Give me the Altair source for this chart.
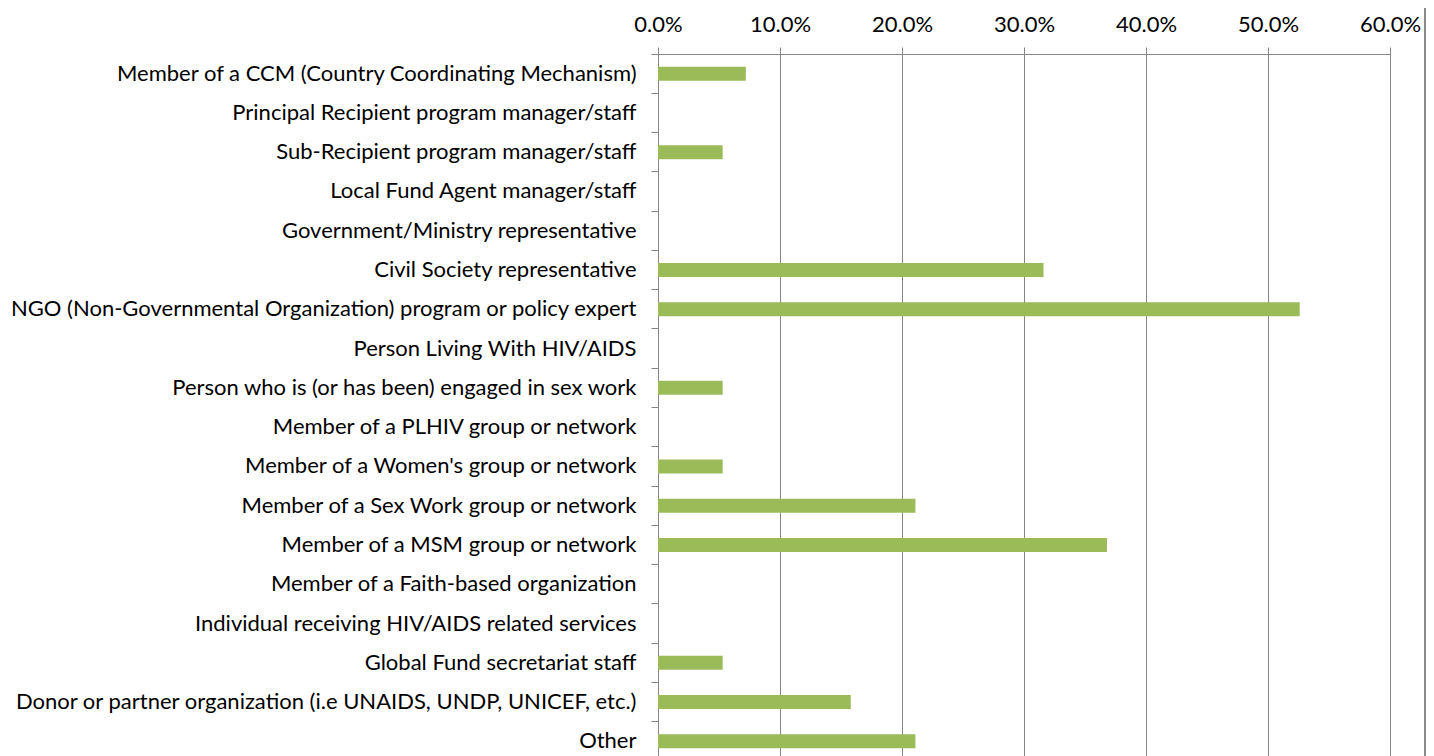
import altair as alt
import pandas as pd

categories = [
    "Member of a CCM (Country Coordinating Mechanism)",
    "Principal Recipient program manager/staff",
    "Sub-Recipient program manager/staff",
    "Local Fund Agent manager/staff",
    "Government/Ministry representative",
    "Civil Society representative",
    "NGO (Non-Governmental Organization) program or policy expert",
    "Person Living With HIV/AIDS",
    "Person who is (or has been) engaged in sex work",
    "Member of a PLHIV group or network",
    "Member of a Women's group or network",
    "Member of a Sex Work group or network",
    "Member of a MSM group or network",
    "Member of a Faith-based organization",
    "Individual receiving HIV/AIDS related services",
    "Global Fund secretariat staff",
    "Donor or partner organization (i.e UNAIDS, UNDP, UNICEF, etc.)",
    "Other",
]
values = [0.072, 0.0, 0.053, 0.0, 0.0, 0.316, 0.526, 0.0, 0.053, 0.0,
          0.053, 0.211, 0.368, 0.0, 0.0, 0.053, 0.158, 0.211]
x_ticks = [0.0, 0.1, 0.2, 0.3, 0.4, 0.5, 0.6]

df = pd.DataFrame({"category": categories, "value": values})

FONT = "Lato"
GRAY = "#868686"
W = 732
H = 707

bars = alt.Chart(df).mark_bar(color="#9BBB59", height=14).encode(
    x=alt.X(
        "value:Q",
        scale=alt.Scale(domain=[0, 0.6], nice=False, zero=True),
        axis=alt.Axis(
            orient="top",
            format=".1%",
            values=x_ticks,
            title=None,
            grid=True,
            gridColor=GRAY,
            gridWidth=1,
            domainColor=GRAY,
            domainWidth=1,
            tickColor=GRAY,
            tickSize=7,
            labelFont=FONT,
            labelFontSize=22,
            labelColor="#000000",
            labelPadding=11,
            labelFlush=False,
        ),
    ),
    y=alt.Y(
        "category:N",
        sort=categories,
        scale=alt.Scale(paddingInner=0, paddingOuter=0),
        axis=alt.Axis(
            title=None,
            bandPosition=0,
            domainColor=GRAY,
            domainWidth=1,
            tickColor=GRAY,
            tickSize=7,
            labelFont=FONT,
            labelFontSize=22,
            labelColor="#000000",
            labelPadding=15,
            labelLimit=1000,
        ),
    ),
)

border = alt.Chart(df).mark_rule(color="#8a8a8a", strokeWidth=2).encode(
    x=alt.value(W + 35),
    y=alt.value(-60),
    y2=alt.value(H + 10),
)

chart = alt.layer(bars, border).properties(
    width=W,
    height=H,
    autosize=alt.AutoSizeParams(type="none"),
    padding={"left": 650, "top": 46, "right": 36, "bottom": 0},
).configure_view(stroke=None).configure(background="white")

chart.save("out.html", embed_options={"renderer": "svg", "actions": False})
